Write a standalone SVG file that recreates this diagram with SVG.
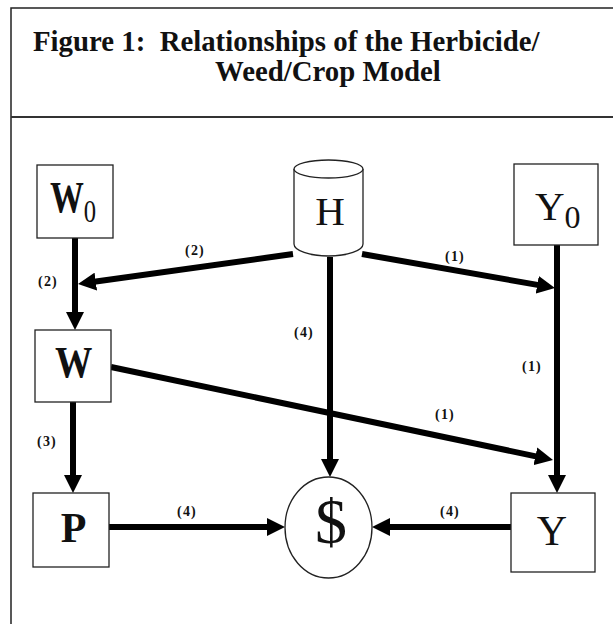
<svg xmlns="http://www.w3.org/2000/svg" width="613" height="624" viewBox="0 0 613 624">
<defs>
<style>
.frame{fill:none;stroke:#222;stroke-width:1.5}
.sep{fill:none;stroke:#333;stroke-width:2.2}
.title{font-family:"Liberation Serif","Times New Roman",serif;font-weight:bold;font-size:28.8px;fill:#111}
.box{fill:#fff;stroke:#222;stroke-width:1.3}
.big{font-family:"Liberation Serif","Times New Roman",serif;fill:#111;text-anchor:middle}
.wtxt{font-family:"Liberation Serif","Times New Roman",serif;font-weight:bold;font-size:44px;fill:#111}
.bold{font-weight:bold}
.sub{font-family:"Liberation Serif","Times New Roman",serif;fill:#111;font-size:32px;font-weight:normal}
.conn{fill:none;stroke:#000;stroke-width:6;marker-end:url(#arr)}
.lbl{font-family:"Liberation Serif","Times New Roman",serif;font-weight:bold;font-size:14px;letter-spacing:1.2px;fill:#111;text-anchor:middle}
</style>
<marker id="arr" viewBox="0 0 18 18" refX="9" refY="9" markerWidth="18" markerHeight="18" markerUnits="userSpaceOnUse" orient="auto">
<path d="M0,0 L18,9 L0,18 z" fill="#000"/>
</marker>
</defs>

<g id="frame">
<path class="frame" d="M613,8 H11 V624"/>
<path class="sep" d="M11,117 H613"/>
<text class="title" x="33" y="51">Figure 1:&#160; Relationships of the Herbicide/</text>
<text class="title" x="215" y="81">Weed/Crop Model</text>
</g>

<g id="connectors">
<path class="conn" d="M75,238 V321"/>
<path class="conn" d="M293,254 L86.9,282.8"/>
<path class="conn" d="M362,254 L546.1,286.4"/>
<path class="conn" d="M557,245 V484"/>
<path class="conn" d="M330,257 V468"/>
<path class="conn" d="M111,367 L544.2,458.1"/>
<path class="conn" d="M73,402 V484"/>
<path class="conn" d="M109,527 H276"/>
<path class="conn" d="M511,527 H381"/>
<text class="lbl" x="195" y="255">(2)</text>
<text class="lbl" x="48" y="286">(2)</text>
<text class="lbl" x="455" y="261">(1)</text>
<text class="lbl" x="304" y="337">(4)</text>
<text class="lbl" x="532" y="371">(1)</text>
<text class="lbl" x="445" y="419">(1)</text>
<text class="lbl" x="47" y="446">(3)</text>
<text class="lbl" x="187" y="516">(4)</text>
<text class="lbl" x="450" y="516">(4)</text>
</g>

<g id="W0">
<rect class="box" x="37" y="165" width="76" height="73"/>
<text class="wtxt" transform="translate(50,212) scale(0.77,1)" x="0" y="0">W<tspan class="sub" dy="10">0</tspan></text>
</g>

<g id="H">
<path class="box" d="M294,169 V244 A34.5,12 0 0 0 363,244 V169"/>
<ellipse class="box" cx="328.5" cy="169" rx="34.5" ry="9"/>
<text class="big" x="330" y="225" font-size="41">H</text>
</g>

<g id="Y0">
<rect class="box" x="514" y="164" width="84" height="81"/>
<text x="535" y="220" style="font-family:'Liberation Serif','Times New Roman',serif;font-size:41px;fill:#111">Y<tspan class="sub" font-size="30" dy="8">0</tspan></text>
</g>

<g id="W">
<rect class="box" x="35" y="330" width="76" height="72"/>
<text class="wtxt" transform="translate(55,377) scale(0.85,1)" x="0" y="0">W</text>
</g>

<g id="P">
<rect class="box" x="33" y="493" width="76" height="74"/>
<text class="big bold" x="73.5" y="542" font-size="42">P</text>
</g>

<g id="dollar">
<ellipse class="box" cx="328.5" cy="527.5" rx="43.5" ry="50.5"/>
<text class="big" x="331" y="543" font-size="64">$</text>
</g>

<g id="Y">
<rect class="box" x="511" y="493" width="84" height="79"/>
<text class="big" x="552" y="545" font-size="42">Y</text>
</g>
</svg>
